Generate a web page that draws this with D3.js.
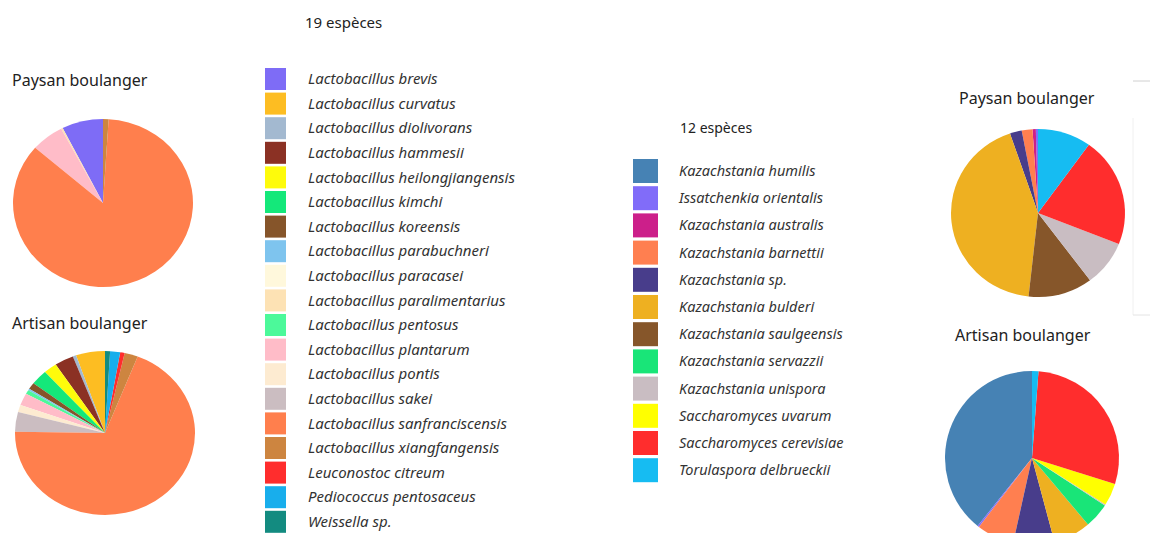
<!DOCTYPE html>
<html>
<head>
<meta charset="utf-8">
<script src="https://cdn.jsdelivr.net/npm/d3@7"></script>
<style>
  body { margin: 0; background: #fff; }
  svg text { font-family: "Noto Sans", "Open Sans", sans-serif; fill: #222; }
  .lbl { font-style: italic; fill: #333; }
</style>
</head>
<body>
<svg id="vis" width="1150" height="533"></svg>
<script>
// bacteria (19 species), legend order
var bacteria = ["Lactobacillus brevis", "Lactobacillus curvatus", "Lactobacillus diolivorans",
    "Lactobacillus hammesii", "Lactobacillus heilongjiangensis", "Lactobacillus kimchi",
    "Lactobacillus koreensis", "Lactobacillus parabuchneri", "Lactobacillus paracasei",
    "Lactobacillus paralimentarius", "Lactobacillus pentosus", "Lactobacillus plantarum",
    "Lactobacillus pontis", "Lactobacillus sakei", "Lactobacillus sanfranciscensis",
    "Lactobacillus xiangfangensis", "Leuconostoc citreum", "Pediococcus pentosaceus", "Weissella sp."];
var bacteriaColors = ["#7e6cf6", "#fdbd22", "#a3b9d0", "#8b3124", "#fefb0b", "#14e87a",
    "#86552a", "#7ec4ee", "#fff8dc", "#fde2b4", "#4cf99a", "#ffbcc8",
    "#fdebd1", "#cbbdc1", "#ff7f4d", "#cd8540", "#ff2d2d", "#18aeec", "#138b80"];
// percentages
var bacteriaPaysan  = [7.4, 0, 0, 0, 0, 0, 0, 0, 0, 0.3, 0, 5.9, 0, 0, 85.4, 1.0, 0, 0, 0];
var bacteriaArtisan = [0, 5.2, 0.6, 3.4, 2.4, 3.0, 1.3, 0.3, 0, 0, 0.8, 2.4, 1.4, 3.9, 69.1, 2.4, 0.8, 1.8, 0.9];

// yeasts (12 species)
var yeasts = ["Kazachstania humilis", "Issatchenkia orientalis", "Kazachstania australis",
    "Kazachstania barnettii", "Kazachstania sp.", "Kazachstania bulderi",
    "Kazachstania saulgeensis", "Kazachstania servazzii", "Kazachstania unispora",
    "Saccharomyces uvarum", "Saccharomyces cerevisiae", "Torulaspora delbrueckii"];
var yeastColors = ["#4682b4", "#816cf9", "#cc1f8a", "#ff7f50", "#483d8b", "#eeb021",
    "#86562a", "#19e578", "#c9bdc2", "#ffff00", "#ff2d2d", "#16bcf2"];
var yeastPaysan  = [0, 0.4, 0.6, 2.0, 2.2, 42.9, 11.9, 0, 8.75, 0, 21.0, 9.9];
var yeastArtisan = [39.5, 0.3, 0, 7.0, 7.7, 7.0, 0, 4.7, 0.2, 4.2, 28.8, 1.2];

var svg = d3.select("svg#vis");

// pies go counter-clockwise from 12 o'clock, in legend order
var pie = d3.pie().sort(null).startAngle(0).endAngle(-2 * Math.PI);

var drawPie = function(values, colors, cx, cy, rx, ry, title, tx, ty) {
    svg.append("text")
        .attr("x", tx)
        .attr("y", ty)
        .style("font-size", "16px")
        .text(title);

    var arc = d3.arc().innerRadius(0).outerRadius(rx);
    var g = svg.append("g")
        .attr("transform", "translate(" + cx + "," + cy + ") scale(1," + (ry / rx) + ")");

    g.selectAll("path")
        .data(pie(values))
        .enter().append("path")
        .attr("d", arc)
        .attr("fill", function(d, i) { return colors[i]; });
};

drawPie(bacteriaPaysan, bacteriaColors, 103, 203, 90, 84, "Paysan boulanger", 12, 86);
drawPie(bacteriaArtisan, bacteriaColors, 105, 433, 90, 82, "Artisan boulanger", 12, 329);
drawPie(yeastPaysan, yeastColors, 1038, 213, 87, 84, "Paysan boulanger", 959, 104);
drawPie(yeastArtisan, yeastColors, 1032, 458, 87, 87, "Artisan boulanger", 955, 341);

// legends
var drawLegend = function(names, colors, x0, y0, y1, sw, sh, gap, fontSize, title, titleX, titleY, titleSize) {
    svg.append("text")
        .attr("x", titleX)
        .attr("y", titleY)
        .style("font-size", titleSize)
        .text(title);

    var y = d3.scaleBand().domain(names).range([y0, y1]);

    var rows = svg.append("g").selectAll("g")
        .data(names)
        .enter().append("g")
        .attr("transform", function(d) { return "translate(0," + y(d) + ")"; });

    rows.append("rect")
        .attr("x", x0)
        .attr("y", 0)
        .attr("width", sw)
        .attr("height", sh)
        .attr("fill", function(d, i) { return colors[i]; });

    rows.append("text")
        .attr("class", "lbl")
        .attr("x", x0 + sw + gap)
        .attr("y", sh / 2)
        .attr("dy", "0.35em")
        .style("font-size", fontSize)
        .text(function(d) { return d; });
};

drawLegend(bacteria, bacteriaColors, 265, 68, 68 + 19 * 24.6, 21, 22, 22, "15px", "19 espèces", 305, 28, "15px");
drawLegend(yeasts, yeastColors, 633, 159, 159 + 12 * 27.2, 25, 24, 21, "14.5px", "12 espèces", 680, 133, "14px");

// faint screenshot edges on the right
svg.append("line").attr("x1", 1133).attr("x2", 1150).attr("y1", 81).attr("y2", 81)
    .attr("stroke", "#d0d0d0");
svg.append("line").attr("x1", 1133).attr("x2", 1133).attr("y1", 118).attr("y2", 315)
    .attr("stroke", "#f0f0f0");
svg.append("line").attr("x1", 1133).attr("x2", 1150).attr("y1", 315).attr("y2", 315)
    .attr("stroke", "#e4e4e4");
</script>
</body>
</html>
